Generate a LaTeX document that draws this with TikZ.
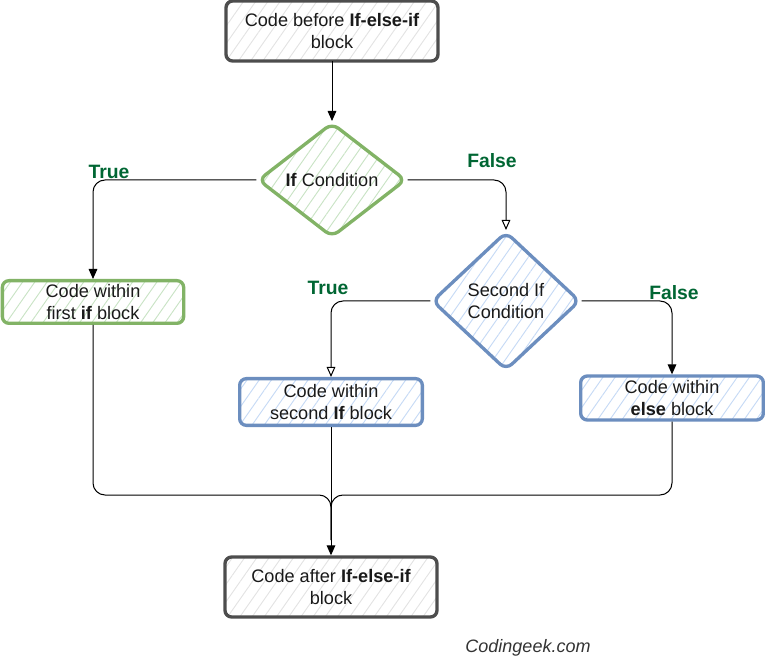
\documentclass[tikz,border=0pt]{standalone}
\usepackage{fontspec}
\setmainfont{Liberation Sans}
\usetikzlibrary{shapes.geometric,arrows.meta,patterns.meta}
\definecolor{gstroke}{HTML}{82B366}
\definecolor{gfill}{HTML}{C9E3C5}
\definecolor{bstroke}{HTML}{6C8EBF}
\definecolor{bfill}{HTML}{C6DAF5}
\definecolor{kstroke}{HTML}{4D4D4D}
\definecolor{kfill}{HTML}{E3E3E3}
\definecolor{lbl}{HTML}{006633}
\tikzset{
  base/.style={align=center, inner sep=0pt, line width=2.5pt, font=\fontsize{13.6}{16.2}\selectfont, text=black!90},
  hatch/.style={pattern={Lines[angle=55,distance=7.5pt,line width=0.7pt]}, pattern color=#1},
  graybox/.style={base, rectangle, rounded corners=5pt, draw=kstroke, hatch=kfill},
  greenbox/.style={base, rectangle, rounded corners=5pt, draw=gstroke, hatch=gfill},
  bluebox/.style={base, rectangle, rounded corners=5pt, draw=bstroke, hatch=bfill},
  greendia/.style={base, diamond, rounded corners=6pt, draw=gstroke, hatch=gfill},
  bluedia/.style={base, diamond, rounded corners=6pt, draw=bstroke, hatch=bfill},
  conn/.style={line width=0.75pt, black, rounded corners=9pt},
  solidtip/.style={-{Triangle[width=6.5pt,length=7.5pt]}},
  opentip/.style={-{Triangle[open,width=6.5pt,length=7.5pt]}},
  lab/.style={font=\fontsize{14.5}{16}\selectfont\bfseries, text=lbl}
}
\begin{document}
\begin{tikzpicture}[x=0.75pt,y=-0.75pt]
\useasboundingbox (0,0) rectangle (765,663);
\node[graybox, minimum width=159pt, minimum height=45pt] (top) at (332,31) {Code before \textbf{If-else-if}\\block};
\node[greendia, minimum width=111pt, minimum height=86pt] (if1) at (332,180) {\textbf{If} Condition};
\node[greenbox, minimum width=136pt, minimum height=32pt] (first) at (93,302) {Code within\\first \textbf{if} block};
\node[bluedia, minimum width=111pt, minimum height=104pt] (if2) at (506,301) {Second If\\Condition};
\node[bluebox, minimum width=137pt, minimum height=35pt] (second) at (331,402) {Code within\\second \textbf{If} block};
\node[bluebox, minimum width=137pt, minimum height=33pt] (else) at (672,398) {Code within\\\textbf{else} block};
\node[graybox, minimum width=159pt, minimum height=45pt] (after) at (331,587) {Code after \textbf{If-else-if}\\block};
\coordinate (m) at (331,495);

\draw[conn, solidtip] (top.south) -- (if1.north);
\draw[conn, solidtip] (if1.west) -| (first.north);
\draw[conn, opentip] (if1.east) -| (if2.north);
\draw[conn, opentip] (if2.west) -| (second.north);
\draw[conn, solidtip] (if2.east) -| (else.north);
\draw[conn] (first.south) |- (m) -- (331,540);
\draw[conn] (else.south) |- (m) -- (331,540);
\draw[conn, solidtip] (second.south) -- (after.north);

\node[lab] (t1) at (109,172) {True};
\node[lab] (f1) at (492,161) {False};
\node[lab] (t2) at (328,288) {True};
\node[lab] (f2) at (674,293) {False};
\node[font=\fontsize{13.5}{15}\selectfont\itshape, text=black!80] (wm) at (528,648) {Codingeek.com};
\end{tikzpicture}
\end{document}
